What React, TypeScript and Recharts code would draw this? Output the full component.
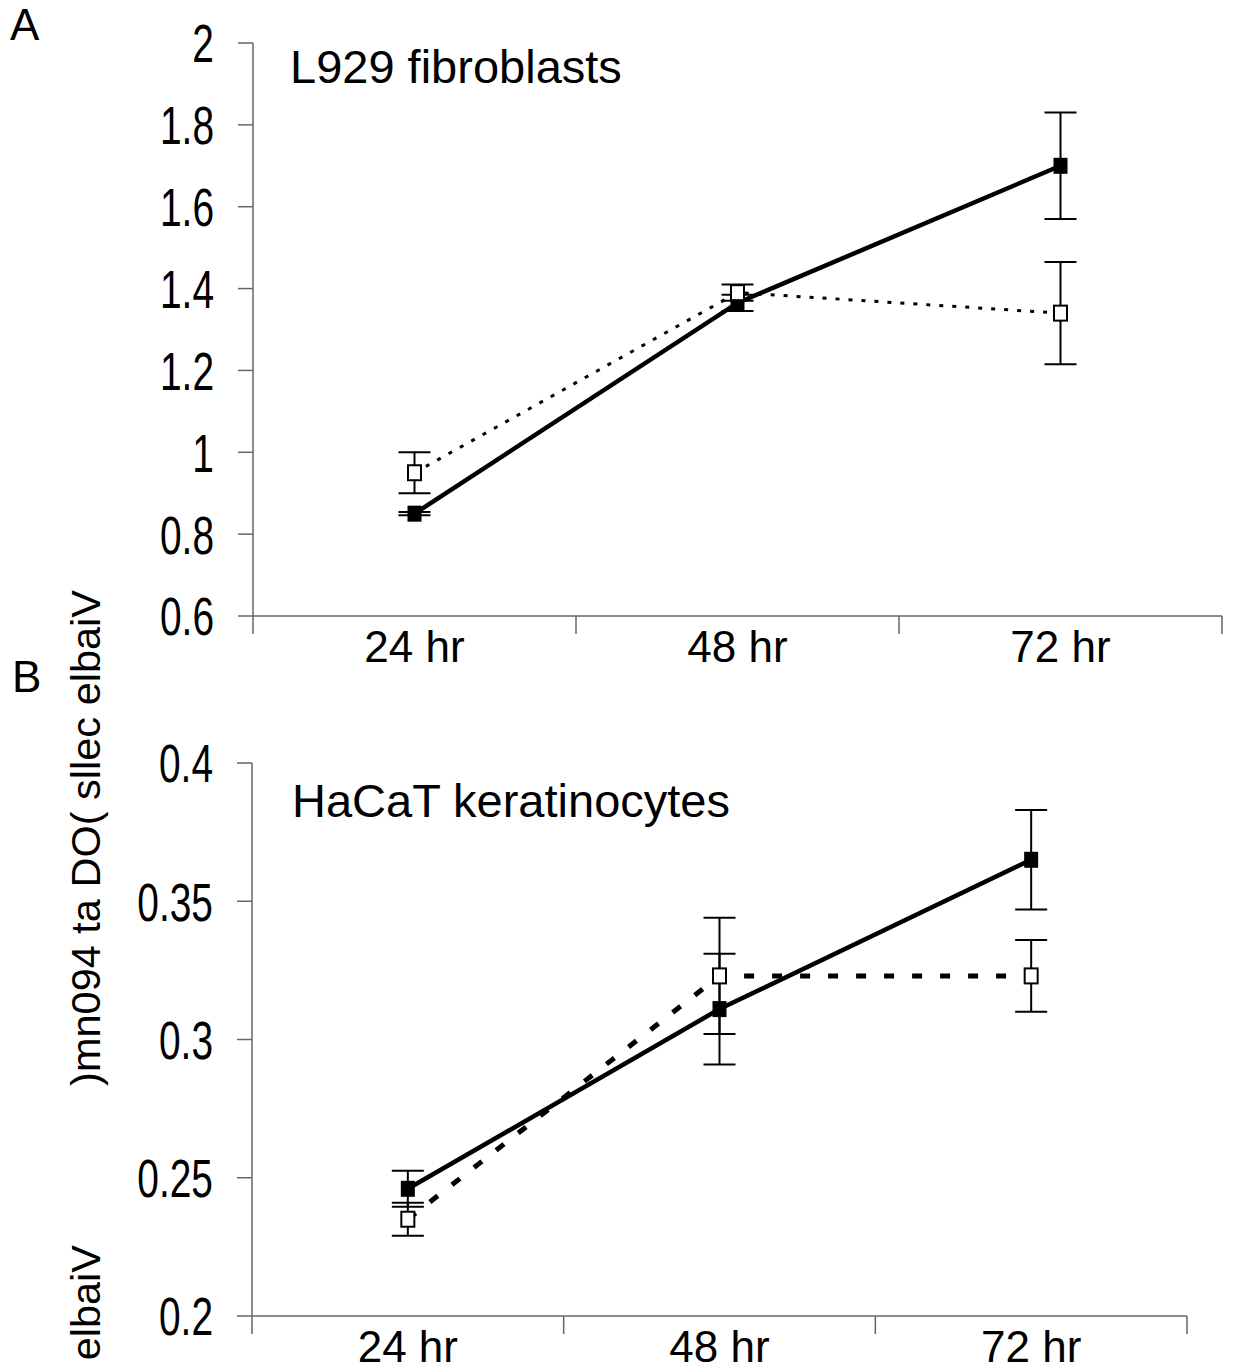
import { LineChart, Line, XAxis, YAxis, ErrorBar } from 'recharts'

const timepoints = ['24 hr', '48 hr', '72 hr']

// L929 fibroblasts
const l929Solid = [0.85, 1.365, 1.7]
const l929SolidErr = [0.004, 0.02, 0.13]
const l929Open = [0.95, 1.39, 1.34]
const l929OpenErr = [0.05, 0.02, 0.125]
const l929Ticks = [0.6, 0.8, 1, 1.2, 1.4, 1.6, 1.8, 2]

// HaCaT keratinocytes
const hacatSolid = [0.246, 0.311, 0.365]
const hacatSolidErr = [0.0065, 0.02, 0.018]
const hacatOpen = [0.235, 0.323, 0.323]
const hacatOpenErr = [0.006, 0.021, 0.013]
const hacatTicks = [0.2, 0.25, 0.3, 0.35, 0.4]

const yLabel = ')mn094 ta DO( sllec elbaiV'

const W = 1234
const H = 1365
const CHART_H = 700
const X_AXIS_H = 60
const BOTTOM = 24
const FONT = '"Liberation Sans", Arial, sans-serif'
const AXIS = '#666'

function FilledSquare({ cx, cy }: any) {
  if (cx == null || cy == null) return <g />
  return <rect x={cx - 7} y={cy - 8} width={14} height={16} fill="#000" />
}

function OpenSquare({ cx, cy }: any) {
  if (cx == null || cy == null) return <g />
  return <rect x={cx - 6.5} y={cy - 7.5} width={13} height={15} fill="#fff" stroke="#000" strokeWidth={2} />
}

// condensed value labels on the y axis
function ValueTick({ x, y, payload }: any) {
  return (
    <text
      transform={`translate(${x},${y}) scale(0.72,1)`}
      textAnchor="end"
      dy="0.36em"
      fontSize={54}
      fontFamily={FONT}
      fill="#000"
    >
      {String(payload.value)}
    </text>
  )
}

// ticks sit on category boundaries, the label goes in the middle of each band
function HourTick({ x, y, payload, step }: any) {
  const i = payload.value
  if (i >= timepoints.length) return <g />
  return (
    <text
      x={x + step / 2}
      y={y}
      textAnchor="middle"
      dy="0.58em"
      fontSize={44}
      fontFamily={FONT}
      fill="#000"
    >
      {timepoints[i]}
    </text>
  )
}

interface PanelProps {
  top: number
  plotLeft: number
  plotRight: number
  plotTop: number
  solid: number[]
  solidErr: number[]
  open: number[]
  openErr: number[]
  ticks: number[]
  openDash: string
  openWidth: number
  solidWidth: number
}

function Panel(p: PanelProps) {
  const data = timepoints.map((t, i) => ({
    x: i + 0.5,
    label: t,
    solid: p.solid[i],
    solidErr: p.solidErr[i],
    open: p.open[i],
    openErr: p.openErr[i],
  }))
  const step = (p.plotRight - p.plotLeft) / timepoints.length
  const xTicks = [...timepoints.keys(), timepoints.length]

  return (
    <div style={{ position: 'absolute', left: 0, top: p.top }}>
      <LineChart
        width={W}
        height={CHART_H}
        data={data}
        margin={{ top: p.plotTop, right: W - p.plotRight, bottom: BOTTOM, left: 0 }}
      >
        <XAxis
          dataKey="x"
          type="number"
          domain={[0, timepoints.length]}
          ticks={xTicks}
          interval={0}
          height={X_AXIS_H}
          tickSize={18}
          axisLine={{ stroke: AXIS, strokeWidth: 1.5 }}
          tickLine={{ stroke: AXIS, strokeWidth: 1.5 }}
          tick={<HourTick step={step} />}
        />
        <YAxis
          type="number"
          domain={[p.ticks[0], p.ticks[p.ticks.length - 1]]}
          ticks={p.ticks}
          interval={0}
          width={p.plotLeft}
          tickSize={15}
          tickMargin={24}
          axisLine={{ stroke: AXIS, strokeWidth: 1.5 }}
          tickLine={{ stroke: AXIS, strokeWidth: 1.5 }}
          tick={<ValueTick />}
        />
        <Line
          dataKey="solid"
          stroke="#000"
          strokeWidth={p.solidWidth}
          dot={<FilledSquare />}
          activeDot={false}
          isAnimationActive={false}
        >
          <ErrorBar dataKey="solidErr" width={16} strokeWidth={2} stroke="#000" />
        </Line>
        <Line
          dataKey="open"
          stroke="#000"
          strokeWidth={p.openWidth}
          strokeDasharray={p.openDash}
          dot={<OpenSquare />}
          activeDot={false}
          isAnimationActive={false}
        >
          <ErrorBar dataKey="openErr" width={16} strokeWidth={2} stroke="#000" />
        </Line>
      </LineChart>
    </div>
  )
}

export default function App() {
  return (
    <div
      style={{
        position: 'absolute',
        left: 0,
        top: 0,
        width: W,
        height: H,
        overflow: 'hidden',
        background: '#fff',
        fontFamily: FONT,
      }}
    >
      <Panel
        top={0}
        plotLeft={253}
        plotRight={1222}
        plotTop={43}
        solid={l929Solid}
        solidErr={l929SolidErr}
        open={l929Open}
        openErr={l929OpenErr}
        ticks={l929Ticks}
        openDash="4 9"
        openWidth={3}
        solidWidth={4.5}
      />
      <Panel
        top={CHART_H}
        plotLeft={252}
        plotRight={1187}
        plotTop={63}
        solid={hacatSolid}
        solidErr={hacatSolidErr}
        open={hacatOpen}
        openErr={hacatOpenErr}
        ticks={hacatTicks}
        openDash="10 18"
        openWidth={5}
        solidWidth={4.5}
      />
      <svg
        width={W}
        height={H}
        style={{ position: 'absolute', left: 0, top: 0, pointerEvents: 'none' }}
        fontFamily={FONT}
      >
        <text x={10} y={40} fontSize={44} fill="#000">A</text>
        <text x={12} y={692} fontSize={44} fill="#000">B</text>
        <text x={290} y={83} fontSize={47} fill="#000">L929 fibroblasts</text>
        <text x={292} y={817} fontSize={47} fill="#000">HaCaT keratinocytes</text>
        <text transform="translate(100,590) rotate(-90)" textAnchor="end" fontSize={41.5} fill="#000">
          {yLabel}
        </text>
        <text transform="translate(100,1245) rotate(-90)" textAnchor="end" fontSize={41.5} fill="#000">
          {yLabel}
        </text>
      </svg>
    </div>
  )
}
